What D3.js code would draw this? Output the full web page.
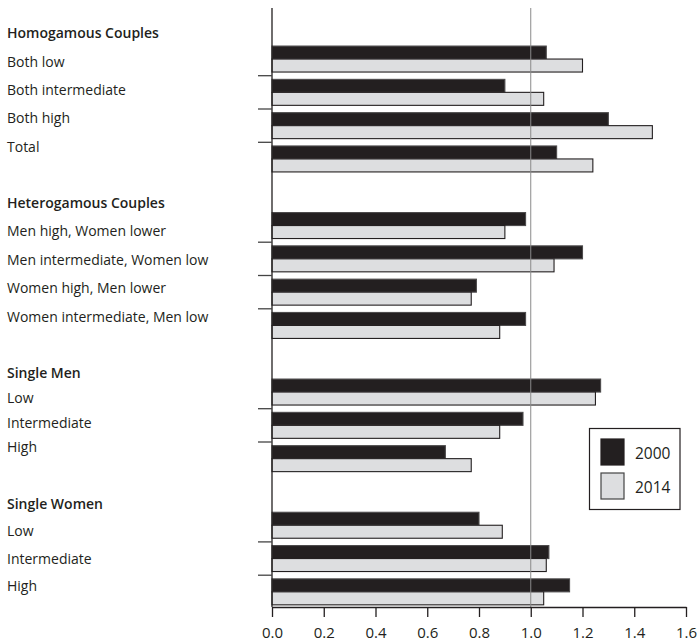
<!DOCTYPE html>
<html>
<head>
<meta charset="utf-8">
<script src="https://cdn.jsdelivr.net/npm/d3@7/dist/d3.min.js"></script>
<style>
  html, body { margin: 0; padding: 0; background: #fff; }
  svg { display: block; }
  text { font-family: "Open Sans", "Noto Sans", sans-serif; fill: #231f20; }
</style>
</head>
<body>
<svg id="chart" width="698" height="643"></svg>
<script>
// ---------- data ----------
const groups = ["Homogamous Couples", "Heterogamous Couples", "Single Men", "Single Women"];
const categories = [
  "Both low", "Both intermediate", "Both high", "Total",
  "Men high, Women lower", "Men intermediate, Women low", "Women high, Men lower", "Women intermediate, Men low",
  "Low", "Intermediate", "High",
  "Low", "Intermediate", "High"
];
const categoryGroup = [0, 0, 0, 0, 1, 1, 1, 1, 2, 2, 2, 3, 3, 3];
const seriesNames = ["2000", "2014"];
const values2000 = [1.06, 0.90, 1.30, 1.10, 0.98, 1.20, 0.79, 0.98, 1.27, 0.97, 0.67, 0.80, 1.07, 1.15];
const values2014 = [1.20, 1.05, 1.47, 1.24, 0.90, 1.09, 0.77, 0.88, 1.25, 0.88, 0.77, 0.89, 1.06, 1.05];
const xTicks = [0, 0.2, 0.4, 0.6, 0.8, 1.0, 1.2, 1.4, 1.6];
const referenceValue = 1.0;

// ---------- layout ----------
const svg = d3.select("#chart");
const ink = "#231f20";
const light = "#dddee0";
const axisTop = 8, axisBottomY = 607;

const x = d3.scaleLinear().domain([0, 1.6]).range([272, 686]);

// rows: categories plus a spacer row between groups
const rowKeys = [];
const catRowKey = [];
categories.forEach((c, i) => {
  if (i > 0 && categoryGroup[i] !== categoryGroup[i - 1]) rowKeys.push("gap" + categoryGroup[i]);
  const k = "r" + i;
  rowKeys.push(k);
  catRowKey.push(k);
});
const y = d3.scaleBand().domain(rowKeys).range([42.4, 608.5]).paddingInner(0.22).paddingOuter(0.11);
const ySub = d3.scaleBand().domain(seriesNames).range([0, y.bandwidth()]);

const seriesValues = { "2000": values2000, "2014": values2014 };
const seriesFill = { "2000": ink, "2014": light };
const seriesStroke = { "2000": "#4d4b4c", "2014": ink };

// ---------- bars ----------
const barData = [];
categories.forEach((c, i) => {
  seriesNames.forEach(s => barData.push({ i, s, v: seriesValues[s][i] }));
});
svg.append("g").selectAll("rect").data(barData).join("rect")
  .attr("x", x(0))
  .attr("y", d => y(catRowKey[d.i]) + ySub(d.s))
  .attr("width", d => x(d.v) - x(0))
  .attr("height", ySub.bandwidth())
  .attr("fill", d => seriesFill[d.s])
  .attr("stroke", d => seriesStroke[d.s])
  .attr("stroke-width", 1.1);

// reference line at 1.0
svg.append("line")
  .attr("x1", x(referenceValue)).attr("x2", x(referenceValue))
  .attr("y1", axisTop).attr("y2", axisBottomY)
  .attr("stroke", "#8a8a8a").attr("stroke-width", 1);

// y axis line
svg.append("line")
  .attr("x1", x(0)).attr("x2", x(0))
  .attr("y1", axisTop).attr("y2", axisBottomY)
  .attr("stroke", ink).attr("stroke-width", 1.3);

// y ticks between categories within a group
const tickYs = [];
categories.forEach((c, i) => {
  if (i < categories.length - 1 && categoryGroup[i + 1] === categoryGroup[i]) {
    tickYs.push(y(catRowKey[i]) + y.bandwidth() + (y.step() - y.bandwidth()) / 2);
  }
});
svg.append("g").selectAll("line").data(tickYs).join("line")
  .attr("x1", x(0) - 14).attr("x2", x(0))
  .attr("y1", d => d).attr("y2", d => d)
  .attr("stroke", "#444").attr("stroke-width", 1.3);

// x axis
const xAxis = d3.axisBottom(x).tickValues(xTicks).tickSize(10).tickSizeOuter(0)
  .tickPadding(10).tickFormat(d3.format(".1f"));
const gx = svg.append("g").attr("transform", `translate(0,${axisBottomY})`).call(xAxis);
gx.select(".domain").attr("stroke", ink).attr("stroke-width", 1.3);
gx.selectAll(".tick line").attr("stroke", ink).attr("stroke-width", 1.3);
gx.selectAll(".tick text").attr("font-size", 15)
  .attr("font-family", "'Open Sans', 'Noto Sans', sans-serif").attr("fill", ink);

// ---------- left labels ----------
const labelGroupLayout = [
  { start: 33.3, pitch: 28.35 },
  { start: 202.7, pitch: 28.5 },
  { start: 373.3, pitch: 24.7 },
  { start: 504, pitch: 27.3 }
];
const labels = [];
groups.forEach((g, gi) => {
  labels.push({ text: g, head: true, y: labelGroupLayout[gi].start });
  let n = 0;
  categories.forEach((c, i) => {
    if (categoryGroup[i] === gi) {
      n += 1;
      labels.push({ text: c, head: false, y: labelGroupLayout[gi].start + n * labelGroupLayout[gi].pitch });
    }
  });
});
svg.append("g").selectAll("text").data(labels).join("text")
  .attr("x", 7)
  .attr("y", d => d.y)
  .attr("dy", "0.36em")
  .attr("font-size", 14)
  .attr("font-weight", d => d.head ? 600 : 400)
  .text(d => d.text);

// ---------- legend ----------
const legend = svg.append("g");
legend.append("rect")
  .attr("x", 589.5).attr("y", 428.5).attr("width", 90.5).attr("height", 81)
  .attr("fill", "#fff").attr("stroke", ink).attr("stroke-width", 1.2);
const legendRows = seriesNames.map((s, i) => ({ s, i }));
const lg = legend.selectAll("g.item").data(legendRows).join("g").attr("class", "item")
  .attr("transform", d => `translate(601,${439 + d.i * 34})`);
lg.append("rect")
  .attr("width", 23).attr("height", 26)
  .attr("fill", d => seriesFill[d.s])
  .attr("stroke", d => d.s === "2000" ? ink : "#444")
  .attr("stroke-width", 1.2);
lg.append("text")
  .attr("x", 34).attr("y", 14).attr("dy", "0.36em")
  .attr("font-size", 15.5)
  .text(d => d.s);
</script>
</body>
</html>
